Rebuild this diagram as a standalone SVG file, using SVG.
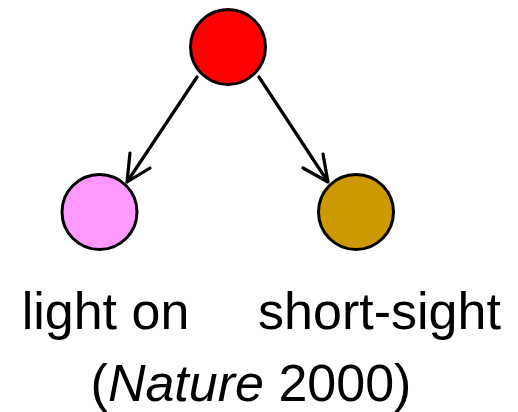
<svg xmlns="http://www.w3.org/2000/svg" width="518" height="412" viewBox="0 0 518 412">
  <style>
    .node { stroke: #000; stroke-width: 3; }
    .edge { fill: none; stroke: #000; stroke-width: 3.2; stroke-linecap: round; stroke-linejoin: round; }
    .label { font-family: "Liberation Sans", Arial, sans-serif; font-size: 52px; fill: #000; }
  </style>
  <rect width="518" height="412" fill="#fff"/>
  <g id="connectors">
    <path class="edge" d="M197,77 L127,182 M130,153 L127,182 L150,168"/>
    <path class="edge" d="M259,77 L328,182 M323,154 L328,182 L303,168"/>
  </g>
  <g id="root"><circle class="node" cx="228" cy="47" r="37.5" fill="#ff0000"/></g>
  <g id="light-on"><circle class="node" cx="99.5" cy="212" r="37.5" fill="#ff99ff"/></g>
  <g id="short-sight"><circle class="node" cx="356" cy="212" r="37.5" fill="#cc9900"/></g>
  <g id="labels">
    <text class="label" x="105.5" y="329" text-anchor="middle">light on</text>
    <text class="label" x="379.5" y="329" text-anchor="middle">short-sight</text>
    <text class="label" x="251" y="401" text-anchor="middle">(<tspan font-style="italic">Nature</tspan> 2000)</text>
  </g>
</svg>
